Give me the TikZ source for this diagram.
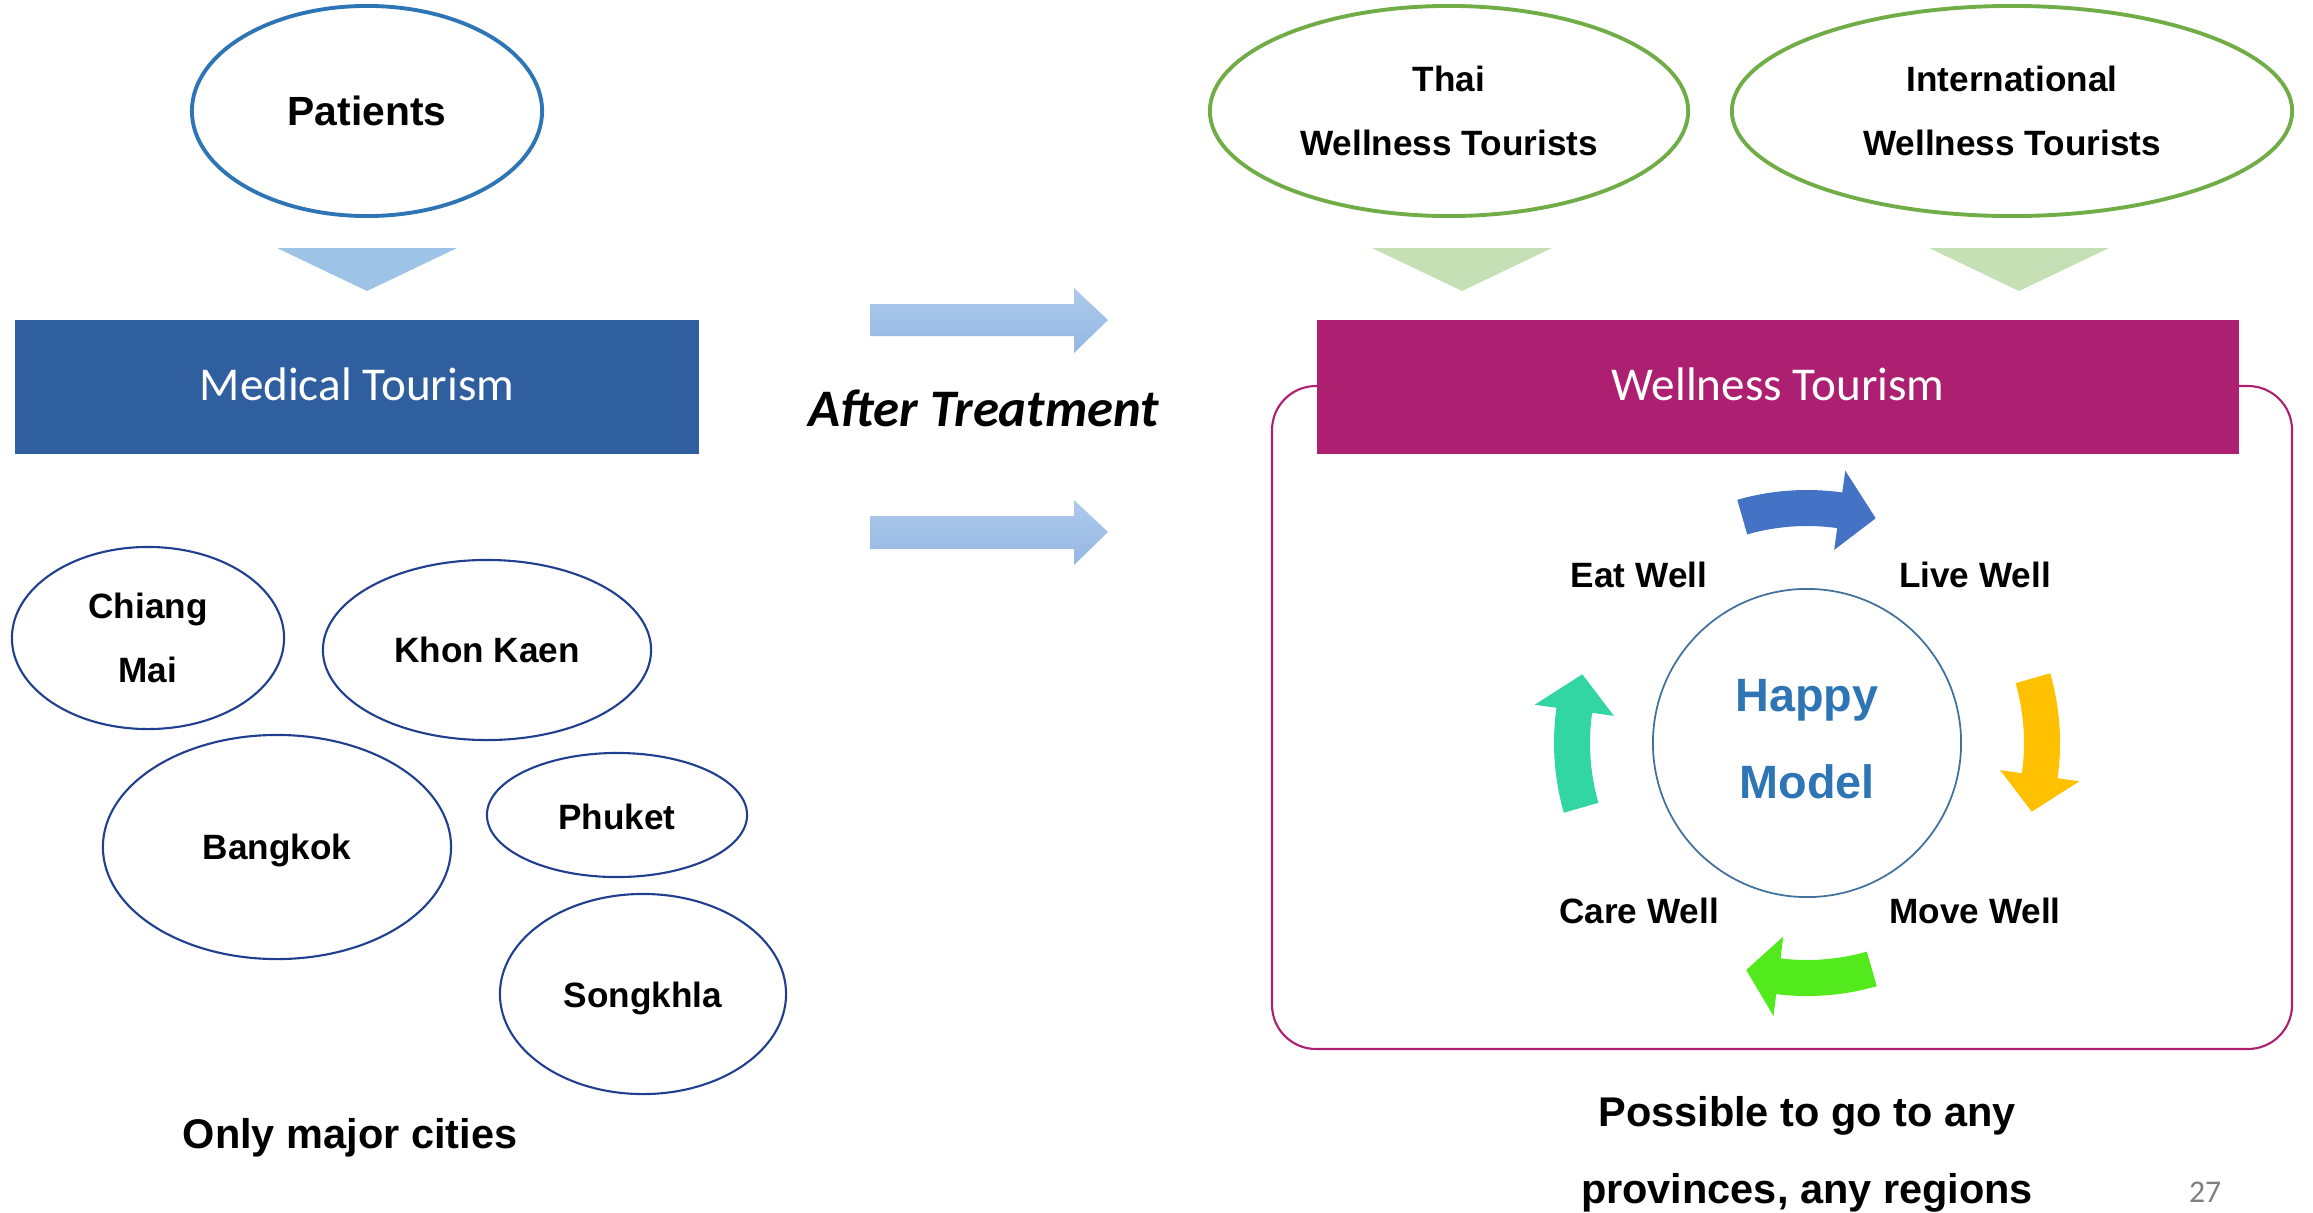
\documentclass[tikz,border=0pt]{standalone}
\usepackage{fontspec}
\setmainfont{Liberation Sans}
\newfontfamily\calfont{Carlito}
\usetikzlibrary{shapes.geometric}
\definecolor{pblue}{HTML}{2E75B6}
\definecolor{cityblue}{HTML}{203F8F}
\definecolor{medblue}{HTML}{2F5F9E}
\definecolor{triblue}{HTML}{9DC3E6}
\definecolor{pgreen}{HTML}{70AD47}
\definecolor{trigreen}{HTML}{C5E0B4}
\definecolor{mag}{HTML}{AD1F70}
\definecolor{circblue}{HTML}{41719C}
\definecolor{arrtop}{HTML}{AECAEB}
\definecolor{arrbot}{HTML}{93B7E3}
\definecolor{cblue}{HTML}{4472C4}
\definecolor{cyellow}{HTML}{FFC000}
\definecolor{cgreen}{HTML}{52EA1C}
\definecolor{cteal}{HTML}{31D6A2}
\definecolor{pgray}{HTML}{7F7F7F}
\newcommand{\happyarrow}[4]{%
  \fill[#1] (#2:253) arc[start angle=#2, end angle=#3, radius=253]
    -- (#3:275) -- (#4:235) -- (#3:195) -- (#3:217)
    arc[start angle=#3, end angle=#2, radius=217] -- cycle;}
\tikzset{
  lbl/.style={font=\fontsize{10}{18.2}\selectfont\bfseries, align=center, inner sep=0pt},
  bigl/.style={font=\fontsize{11.8}{21.9}\selectfont\bfseries, align=center, inner sep=0pt},
  city/.style={ellipse, draw=cityblue, line width=0.6pt, inner sep=0pt},
  topell/.style={ellipse, line width=1.1pt, inner sep=0pt, minimum height=2.10cm},
  band/.style={inner sep=0pt, minimum height=1.34cm, text=white,
    font=\calfont\fontsize{13.4}{16}\selectfont},
  blockarrow/.style={top color=arrtop, bottom color=arrbot, draw=none}
}
\begin{document}
\begin{tikzpicture}[x=0.01cm,y=-0.01cm]
\useasboundingbox (0,0) rectangle (2313,1212);

% left column
\node[topell, draw=pblue, minimum width=3.50cm] (pat) at (367,111) {};
\node[font=\fontsize{11.6}{14}\selectfont\bfseries] (patt) at (367,111) {Patients};
\fill[triblue] (277,248) -- (457,248) -- (367,291) -- cycle;
\node[band, fill=medblue, minimum width=6.84cm] (med) at (357,387) {};
\node[band, minimum width=6.84cm] (medt) at (357,384) {Medical Tourism};

\node[city, minimum width=2.72cm, minimum height=1.82cm] (cm) at (148,638) {};
\node[lbl] (cmt) at (148,638) {Chiang\\Mai};
\node[city, minimum width=3.28cm, minimum height=1.80cm] (kk) at (487,650) {};
\node[lbl] (kkt) at (487,650) {Khon Kaen};
\node[city, minimum width=3.48cm, minimum height=2.24cm] (bk) at (277,847) {};
\node[lbl] (bkt) at (277,850) {Bangkok};
\node[city, minimum width=2.60cm, minimum height=1.24cm] (pk) at (617,815) {};
\node[lbl] (pkt) at (617,817) {Phuket};
\node[city, minimum width=2.86cm, minimum height=2.00cm] (sk) at (643,994) {};
\node[lbl] (skt) at (643,998) {Songkhla};
\node[bigl] (only) at (350,1138) {Only major cities};

% middle
\shade[blockarrow] (870,304) -- (1074,304) -- (1074,288) -- (1108,320)
  -- (1074,353) -- (1074,336) -- (870,336) -- cycle;
\shade[blockarrow] (870,516) -- (1074,516) -- (1074,500) -- (1108,532)
  -- (1074,565) -- (1074,549) -- (870,549) -- cycle;
\node[font=\calfont\fontsize{15}{18}\selectfont\bfseries\itshape] (after) at (984,408) {After Treatment};

% right column
\node[topell, draw=pgreen, minimum width=4.78cm] (thai) at (1449,111) {};
\node[lbl] (thait) at (1449,111) {Thai\\Wellness Tourists};
\node[topell, draw=pgreen, minimum width=5.60cm] (intl) at (2012,111) {};
\node[lbl] (intlt) at (2012,111) {International\\Wellness Tourists};
\fill[trigreen] (1372,248) -- (1552,248) -- (1462,291) -- cycle;
\fill[trigreen] (1929,248) -- (2109,248) -- (2019,291) -- cycle;

\draw[mag, line width=0.6pt, rounded corners=0.44cm] (1272,386) rectangle (2292,1049);
\node[band, fill=mag, minimum width=9.22cm] (well) at (1778,387) {};
\node[band, minimum width=9.22cm] (wellt) at (1778,384) {Wellness Tourism};

\node[circle, draw=circblue, line width=0.5pt, minimum size=3.08cm, inner sep=0pt] (happy) at (1807,743) {};
\node[font=\fontsize{13.3}{24.7}\selectfont\bfseries, text=pblue, align=center, inner sep=0pt] (happyt) at (1807,739) {Happy\\Model};

\begin{scope}[shift={(1807,743)}, yscale=-1]
  \happyarrow{cblue}{106}{82}{73}
  \happyarrow{cyellow}{16}{-8}{-17}
  \happyarrow{cgreen}{-74}{-97}{-105}
  \happyarrow{cteal}{-164}{-188}{-197}
\end{scope}

\node[lbl] (eat) at (1639,575) {Eat Well};
\node[lbl] (live) at (1975,575) {Live Well};
\node[lbl] (care) at (1639,911) {Care Well};
\node[lbl] (move) at (1975,911) {Move Well};

\node[bigl] (poss) at (1807,1154) {Possible to go to any\\provinces, any regions};
\node[font=\calfont\fontsize{9}{11}\selectfont, text=pgray] (page) at (2205,1192) {27};
\end{tikzpicture}
\end{document}
